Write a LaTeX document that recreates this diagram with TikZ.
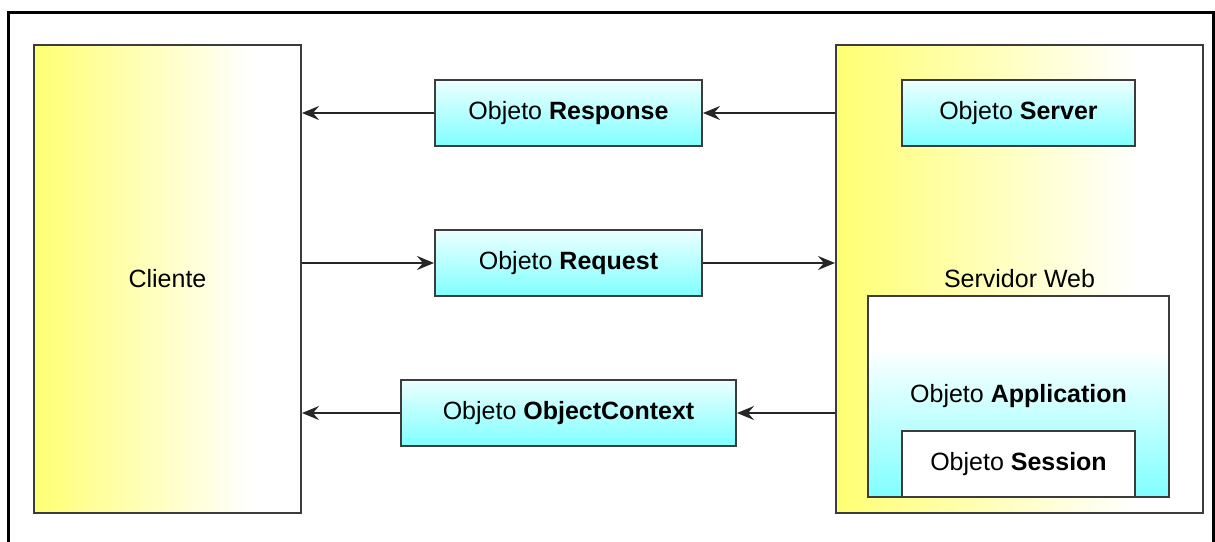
\documentclass[tikz,border=0pt]{standalone}
\usepackage{fontspec}
\setmainfont{Liberation Sans}
\usetikzlibrary{arrows.meta,calc}

\definecolor{paleyellow}{RGB}{255,255,115}
\definecolor{aqua}{RGB}{128,255,255}
\definecolor{aqualight}{RGB}{236,255,255}
\definecolor{edge}{RGB}{60,60,60}

% TikZ maps a path onto the middle part (25bp to 75bp) of a shading
% yellow on the left fading to white towards the right
\pgfdeclarehorizontalshading{yellowfade}{100bp}{color(0bp)=(paleyellow); color(25bp)=(paleyellow); color(66bp)=(white); color(100bp)=(white)}
% light aqua at the top, stronger aqua at the bottom
\pgfdeclareverticalshading{aquafade}{100bp}{color(0bp)=(aqua); color(25bp)=(aqua); color(75bp)=(aqualight); color(100bp)=(aqualight)}
% white upper part, aqua lower part
\pgfdeclareverticalshading{aquahalf}{100bp}{color(0bp)=(aqua); color(25bp)=(aqua); color(62bp)=(white); color(100bp)=(white)}

\begin{document}
\begin{tikzpicture}[x=1pt,y=-1pt,
  box/.style={draw=edge, line width=2pt, inner sep=0pt, font=\fontsize{25}{30}\selectfont},
  tier/.style={box, shading=yellowfade},
  obj/.style={box, shading=aquafade, minimum height=66pt},
  arr/.style={draw=black!85, line width=2pt, -{Stealth[length=17pt,width=14pt,inset=6pt]}}
]
\useasboundingbox (0,0) rectangle (1215,541);

% surrounding frame, open at the bottom
\draw[line width=3pt] (8,560) -- (8,12) -- (1213,12) -- (1213,560);

% client and web server
\node[tier, minimum width=267pt, minimum height=468pt] (cliente) at (167.5,279) {Cliente};
\node[tier, minimum width=367pt, minimum height=468pt] (servidor) at (1019.5,279) {Servidor Web};

% objects exchanged between them
\node[obj, minimum width=267pt] (response) at (568.5,113) {Objeto \textbf{Response}};
\node[obj, minimum width=267pt] (request) at (568.5,263) {Objeto \textbf{Request}};
\node[obj, minimum width=335pt] (context) at (568.5,413) {Objeto \textbf{ObjectContext}};

% objects living on the server
\node[obj, minimum width=233pt] (server) at (1018.5,113) {Objeto \textbf{Server}};
\node[box, shading=aquahalf, minimum width=301pt, minimum height=201pt] (app) at (1018.5,396.5) {Objeto \textbf{Application}};
\node[box, fill=white, minimum width=233pt, minimum height=66pt] (session) at (1018.5,464) {Objeto \textbf{Session}};

% message flow
\draw[arr] (servidor.west |- response) -- (response.east);
\draw[arr] (response.west) -- (cliente.east |- response);
\draw[arr] (cliente.east |- request) -- (request.west);
\draw[arr] (request.east) -- (servidor.west |- request);
\draw[arr] (servidor.west |- context) -- (context.east);
\draw[arr] (context.west) -- (cliente.east |- context);
\end{tikzpicture}
\end{document}
